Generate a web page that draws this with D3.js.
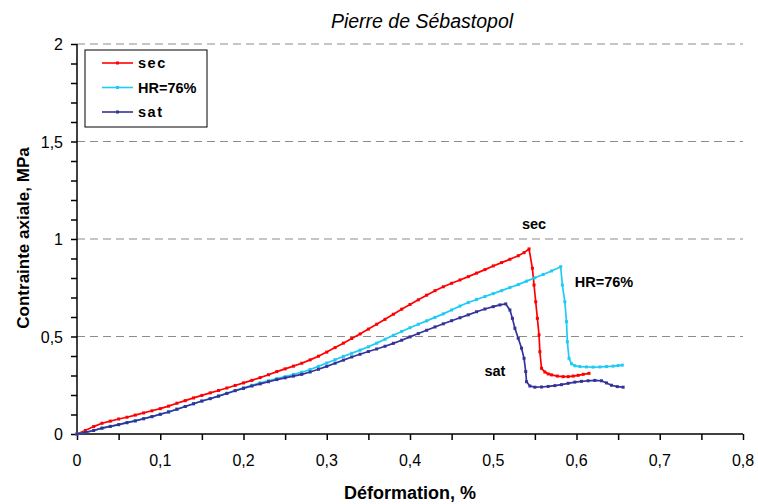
<!DOCTYPE html>
<html><head><meta charset="utf-8">
<script src="https://cdn.jsdelivr.net/npm/d3@7/dist/d3.min.js"></script>
<style>body{margin:0;background:#fff}svg{display:block}text{font-family:"Liberation Sans",Arial,sans-serif}</style>
</head><body><svg id="c" width="758" height="504"></svg>
<script>
const title = "Pierre de Sébastopol";
const xLabel = "Déformation, %";
const yLabel = "Contrainte axiale, MPa";
const seriesNames = ["sec", "HR=76%", "sat"];
const xTicks = [0, 0.1, 0.2, 0.3, 0.4, 0.5, 0.6, 0.7, 0.8];
const yTicks = [0, 0.5, 1, 1.5, 2];
const yGrid = [0.5, 1, 1.5, 2];

const secX = [0,0.01,0.02,0.03,0.04,0.05,0.06,0.07,0.08,0.09,0.10,0.11,0.12,0.13,0.14,0.15,0.16,0.17,0.18,0.19,0.20,0.21,0.22,0.23,0.24,0.25,0.26,0.27,0.28,0.29,0.30,0.31,0.32,0.33,0.34,0.35,0.36,0.37,0.38,0.39,0.40,0.41,0.42,0.43,0.44,0.45,0.46,0.47,0.48,0.49,0.50,0.51,0.52,0.53,0.537,0.543,0.547,0.549,0.551,0.553,0.555,0.556,0.558,0.562,0.566,0.570,0.577,0.584,0.590,0.596,0.602,0.608,0.615];
const secY = [0,0.018,0.038,0.055,0.066,0.077,0.086,0.097,0.108,0.119,0.130,0.143,0.158,0.171,0.185,0.198,0.211,0.223,0.236,0.249,0.262,0.275,0.289,0.304,0.320,0.334,0.348,0.363,0.380,0.399,0.420,0.443,0.466,0.490,0.513,0.538,0.563,0.588,0.614,0.640,0.664,0.688,0.712,0.735,0.755,0.773,0.790,0.807,0.825,0.843,0.862,0.879,0.896,0.914,0.930,0.949,0.850,0.764,0.678,0.593,0.508,0.422,0.337,0.318,0.308,0.303,0.297,0.294,0.294,0.297,0.301,0.306,0.311];

const hrX = [0,0.01,0.02,0.03,0.04,0.05,0.06,0.07,0.08,0.09,0.10,0.11,0.12,0.13,0.14,0.15,0.16,0.17,0.18,0.19,0.20,0.21,0.22,0.23,0.24,0.25,0.26,0.27,0.28,0.29,0.30,0.31,0.32,0.33,0.34,0.35,0.36,0.37,0.38,0.39,0.40,0.41,0.42,0.43,0.44,0.45,0.46,0.47,0.48,0.49,0.50,0.51,0.52,0.53,0.54,0.55,0.56,0.57,0.581,0.583,0.586,0.588,0.589,0.591,0.594,0.598,0.604,0.612,0.620,0.628,0.636,0.644,0.650,0.655];
const hrY = [0,0.008,0.018,0.030,0.039,0.048,0.058,0.068,0.079,0.089,0.101,0.113,0.127,0.141,0.155,0.169,0.182,0.195,0.209,0.223,0.237,0.250,0.262,0.273,0.284,0.294,0.305,0.317,0.331,0.347,0.364,0.381,0.398,0.414,0.430,0.447,0.466,0.486,0.506,0.526,0.545,0.563,0.580,0.598,0.616,0.636,0.656,0.674,0.690,0.705,0.720,0.735,0.751,0.766,0.784,0.801,0.818,0.836,0.858,0.764,0.678,0.576,0.473,0.388,0.360,0.350,0.346,0.344,0.343,0.344,0.346,0.348,0.351,0.353];

const satX = [0,0.01,0.02,0.03,0.04,0.05,0.06,0.07,0.08,0.09,0.10,0.11,0.12,0.13,0.14,0.15,0.16,0.17,0.18,0.19,0.20,0.21,0.22,0.23,0.24,0.25,0.26,0.27,0.28,0.29,0.30,0.31,0.32,0.33,0.34,0.35,0.36,0.37,0.38,0.39,0.40,0.41,0.42,0.43,0.44,0.45,0.46,0.47,0.48,0.49,0.50,0.508,0.515,0.520,0.523,0.526,0.530,0.534,0.537,0.539,0.540,0.544,0.550,0.558,0.566,0.574,0.582,0.590,0.598,0.606,0.614,0.622,0.630,0.636,0.642,0.649,0.656];
const satY = [0,0.008,0.018,0.030,0.039,0.048,0.058,0.067,0.078,0.089,0.101,0.113,0.127,0.141,0.155,0.169,0.181,0.194,0.208,0.222,0.234,0.246,0.257,0.268,0.279,0.288,0.297,0.306,0.318,0.332,0.347,0.363,0.379,0.395,0.409,0.423,0.436,0.450,0.465,0.481,0.498,0.515,0.532,0.549,0.565,0.581,0.596,0.611,0.627,0.641,0.653,0.662,0.667,0.636,0.593,0.542,0.491,0.440,0.388,0.320,0.268,0.246,0.240,0.241,0.244,0.248,0.253,0.260,0.266,0.270,0.273,0.275,0.273,0.262,0.250,0.243,0.240];

const colors = ["#ff0000", "#1ecbf5", "#333399"];
const labelPos = [[0.549, 1.05], [0.598, 0.754], [0.502, 0.30]];

const svg = d3.select("#c");
const m = {l: 77, r: 15, t: 44, b: 70};
const W = 758, H = 504;
const x = d3.scaleLinear().domain([0, 0.8]).range([m.l, W - m.r]);
const y = d3.scaleLinear().domain([0, 2]).range([H - m.b, m.t]);
const fmt = d => String(d).replace(".", ",");

// grid
svg.append("g").selectAll("line").data(yGrid).join("line")
  .attr("x1", x(0)).attr("x2", x(0.8)).attr("y1", d => y(d)).attr("y2", d => y(d))
  .attr("stroke", "#8c8c8c").attr("stroke-width", 1.2).attr("stroke-dasharray", "8,5");

// axes
const xAxis = svg.append("g").attr("transform", `translate(0,${y(0)})`)
  .call(d3.axisBottom(x).tickValues(d3.range(0, 0.801, 0.05)).tickSize(6).tickFormat(""));
xAxis.selectAll("line, path").attr("stroke", "#000").attr("stroke-width", 1.5);
xAxis.select(".domain").attr("d", `M${x(0)},0H${x(0.8)}`);
svg.append("g").selectAll("text").data(xTicks).join("text")
  .attr("x", d => x(d)).attr("y", y(0) + 32).attr("text-anchor", "middle")
  .attr("font-size", 16).text(fmt);

const yAxis = svg.append("g").attr("transform", `translate(${x(0)},0)`)
  .call(d3.axisLeft(y).tickValues(d3.range(0, 2.001, 0.1)).tickSize(6).tickFormat(""));
yAxis.selectAll("line, path").attr("stroke", "#000").attr("stroke-width", 1.5);
yAxis.select(".domain").attr("d", `M0,${y(0)}V${y(2)}`);
svg.append("g").selectAll("text").data(yTicks).join("text")
  .attr("x", x(0) - 14).attr("y", d => y(d) + 6).attr("text-anchor", "end")
  .attr("font-size", 16).text(fmt);

// series
const series = [[secX, secY], [hrX, hrY], [satX, satY]].map(([xs, ys]) => xs.map((v, i) => [v, ys[i]]));
const line = d3.line().x(d => x(d[0])).y(d => y(d[1]));
series.forEach((pts, i) => {
  svg.append("path").attr("d", line(pts)).attr("fill", "none")
    .attr("stroke", colors[i]).attr("stroke-width", 1.7);
  svg.append("g").selectAll("rect").data(pts).join("rect")
    .attr("x", d => x(d[0]) - 1.5).attr("y", d => y(d[1]) - 1.5)
    .attr("width", 3).attr("height", 3).attr("fill", colors[i]);
});

// curve labels
svg.append("g").selectAll("text").data(seriesNames).join("text")
  .attr("x", (d, i) => x(labelPos[i][0])).attr("y", (d, i) => y(labelPos[i][1]))
  .attr("text-anchor", (d, i) => i === 1 ? "start" : "middle")
  .attr("font-size", 14.5).attr("font-weight", "bold").text(d => d);

// legend
const lg = svg.append("g");
lg.append("rect").attr("x", 85).attr("y", 50).attr("width", 122).attr("height", 77)
  .attr("fill", "#fff").attr("stroke", "#000").attr("stroke-width", 1);
seriesNames.forEach((n, i) => {
  const yy = 63 + i * 24.5;
  lg.append("line").attr("x1", 102).attr("x2", 133).attr("y1", yy).attr("y2", yy)
    .attr("stroke", colors[i]).attr("stroke-width", 1.6);
  lg.append("rect").attr("x", 116).attr("y", yy - 1.5).attr("width", 3).attr("height", 3).attr("fill", colors[i]);
  lg.append("text").attr("x", 138).attr("y", yy + 5).attr("font-size", 14.5)
    .attr("font-weight", "bold").attr("letter-spacing", i === 1 ? 0 : 1.5).text(n);
});

// titles
svg.append("text").attr("x", 422).attr("y", 28).attr("text-anchor", "middle")
  .attr("font-size", 19.5).attr("font-style", "italic").text(title);
svg.append("text").attr("x", 410).attr("y", 499).attr("text-anchor", "middle")
  .attr("font-size", 18).attr("font-weight", "bold").text(xLabel);
svg.append("text").attr("transform", `translate(29,238) rotate(-90)`)
  .attr("text-anchor", "middle").attr("font-size", 17).attr("font-weight", "bold").text(yLabel);
</script></body></html>
